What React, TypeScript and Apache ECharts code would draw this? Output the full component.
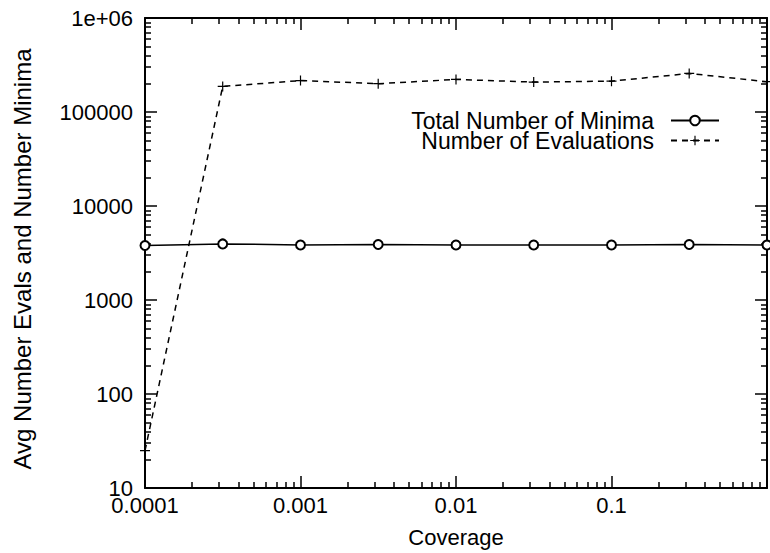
import React, { useEffect, useRef } from "react";
import * as echarts from "echarts";

const coverage = [0.0001, 0.000316, 0.001, 0.00316, 0.01, 0.0316, 0.1, 0.316, 1];
const totalMinima = [3800, 3950, 3850, 3900, 3850, 3850, 3850, 3900, 3850];
const numEvaluations = [25, 187000, 216000, 200000, 222000, 208000, 213000, 257000, 210000];

const xTickLabels = ["0.0001", "0.001", "0.01", "0.1", ""]; // exponents -4..0
const yTickLabels = ["10", "100", "1000", "10000", "100000", "1e+06"]; // exponents 1..6

const xMinorTicks: number[] = [];
for (let d = -4; d < 0; d++) for (let k = 2; k <= 9; k++) xMinorTicks.push(Math.log10(k) + d);
const yMinorTicks: number[] = [];
for (let d = 1; d < 6; d++) for (let k = 2; k <= 9; k++) yMinorTicks.push(Math.log10(k) + d);

const FONT = "Liberation Sans, Arial, Helvetica, sans-serif";
const PLUS = "path://M4.4,0h1.2v4.4h4.4v1.2h-4.4v4.4h-1.2v-4.4h-4.4v-1.2h4.4z";

export default function App() {
  const ref = useRef<HTMLDivElement>(null);
  useEffect(() => {
    if (!ref.current) return;
    const chart = echarts.init(ref.current, undefined, { renderer: "svg" });
    const tickStyle = { color: "#000", width: 1.5 };
    const majorX = (pos: "bottom" | "top", labels: boolean) => ({
      type: "log",
      logBase: 10,
      min: 0.0001,
      max: 1,
      position: pos,
      axisLine: { show: true, onZero: false, lineStyle: { color: "#000", width: 2 } },
      axisTick: { show: true, inside: true, length: 12, lineStyle: tickStyle },
      splitLine: { show: false },
      axisLabel: {
        show: labels,
        margin: 9,
        color: "#000",
        fontSize: 22,
        lineHeight: 16,
        fontFamily: FONT,
        formatter: (v: number) => xTickLabels[Math.round(Math.log10(v)) + 4] ?? "",
      },
      ...(labels
        ? {
            name: "Coverage",
            nameLocation: "middle",
            nameGap: 38,
            nameTextStyle: { color: "#000", fontSize: 22, fontFamily: FONT },
          }
        : {}),
    });
    const minorX = (pos: "bottom" | "top") => ({
      type: "value",
      min: -4,
      max: 0,
      position: pos,
      axisLine: { show: false, onZero: false },
      axisTick: { show: true, inside: true, length: 6, lineStyle: tickStyle, customValues: xMinorTicks },
      axisLabel: { show: false },
      splitLine: { show: false },
    });
    const majorY = (pos: "left" | "right", labels: boolean) => ({
      type: "log",
      logBase: 10,
      min: 10,
      max: 1000000,
      position: pos,
      axisLine: { show: true, onZero: false, lineStyle: { color: "#000", width: 2 } },
      axisTick: { show: true, inside: true, length: 12, lineStyle: tickStyle },
      splitLine: { show: false },
      axisLabel: {
        show: labels,
        margin: 12,
        color: "#000",
        fontSize: 22,
        lineHeight: 16,
        fontFamily: FONT,
        formatter: (v: number) => yTickLabels[Math.round(Math.log10(v)) - 1] ?? "",
      },
      ...(labels
        ? {
            name: "Avg Number Evals and Number Minima",
            nameLocation: "middle",
            nameGap: 111,
            nameTextStyle: { color: "#000", fontSize: 24, fontFamily: FONT, padding: [0, 12, 0, 0] },
          }
        : {}),
    });
    const minorY = (pos: "left" | "right") => ({
      type: "value",
      min: 1,
      max: 6,
      position: pos,
      axisLine: { show: false, onZero: false },
      axisTick: { show: true, inside: true, length: 6, lineStyle: tickStyle, customValues: yMinorTicks },
      axisLabel: { show: false },
      splitLine: { show: false },
    });
    const legendBase = {
      orient: "horizontal",
      align: "right",
      right: 50,
      padding: 0,
      itemWidth: 48,
      itemHeight: 12,
      textStyle: { color: "#000", fontSize: 23, lineHeight: 19, fontFamily: FONT, padding: [0, 12, 0, 0] },
    };
    chart.setOption({
      animation: false,
      backgroundColor: "#fff",
      grid: { left: 145, right: 2, top: 18, bottom: 61, containLabel: false },
      xAxis: [majorX("bottom", true), majorX("top", false), minorX("bottom"), minorX("top")],
      yAxis: [majorY("left", true), majorY("right", false), minorY("left"), minorY("right")],
      legend: [
        { ...legendBase, top: 109, data: ["Total Number of Minima"] },
        { ...legendBase, top: 129, data: ["Number of Evaluations"] },
      ],
      series: [
        {
          name: "Total Number of Minima",
          type: "line",
          xAxisIndex: 0,
          yAxisIndex: 0,
          data: coverage.map((x, i) => [x, totalMinima[i]]),
          symbol: "emptyCircle",
          symbolSize: 9,
          clip: false,
          lineStyle: { color: "#000", width: 1.5 },
          itemStyle: { color: "#000", borderColor: "#000", borderWidth: 1.5 },
        },
        {
          name: "Number of Evaluations",
          type: "line",
          xAxisIndex: 0,
          yAxisIndex: 0,
          data: coverage.map((x, i) => [x, numEvaluations[i]]),
          symbol: PLUS,
          symbolSize: 10,
          clip: false,
          lineStyle: { color: "#000", width: 1.5, type: [6, 5] },
          itemStyle: { color: "#000" },
        },
      ],
    });
    return () => chart.dispose();
  }, []);
  return (
    <div
      ref={ref}
      style={{ position: "absolute", left: 0, top: 0, width: 770, height: 553, background: "#fff" }}
    />
  );
}
